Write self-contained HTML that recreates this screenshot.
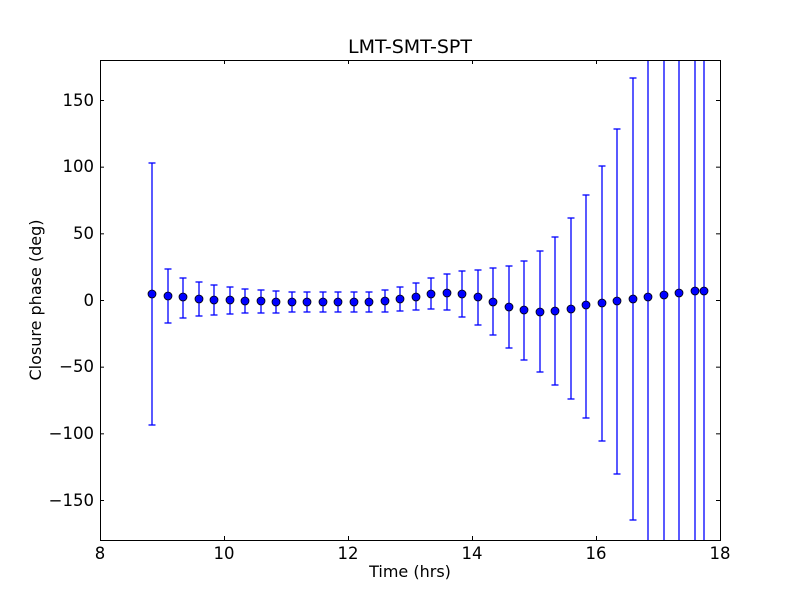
<!DOCTYPE html>
<html><head><style>body{margin:0;background:#fff}svg{display:block}text{font-family:"DejaVu Sans","Liberation Sans",sans-serif;fill:#000}</style></head><body>
<svg width="800" height="600" xmlns="http://www.w3.org/2000/svg">
<rect width="800" height="600" fill="#fff"/>
<g id="eb" stroke="#0000ff" stroke-width="1.3" fill="none"></g>
<g id="pts"></g>
<rect x="100.5" y="60.5" width="620" height="480" fill="none" stroke="#000" stroke-width="1"/>
<g id="ticks" stroke="#000" stroke-width="1"></g>
<g font-size="16.5" text-anchor="middle">
<text x="100" y="559">8</text><text x="224" y="559">10</text><text x="348" y="559">12</text><text x="472" y="559">14</text><text x="596" y="559">16</text><text x="720" y="559">18</text>
</g>
<g font-size="16.5" text-anchor="end">
<text x="94" y="106">150</text><text x="94" y="172">100</text><text x="94" y="239">50</text><text x="94" y="306">0</text><text x="94" y="372">−50</text><text x="94" y="439">−100</text><text x="94" y="506">−150</text>
</g>
<text x="410" y="577" font-size="16" text-anchor="middle">Time (hrs)</text>
<text x="41" y="300" font-size="16" text-anchor="middle" transform="rotate(-90 41 300)">Closure phase (deg)</text>
<text x="410" y="53" font-size="19" text-anchor="middle">LMT-SMT-SPT</text>
<script>
var d=[[152,294,163,425],[168,296,269,323],[183,297,278,318],[199,299,282,316],[214,300,285,315],[230,300,287,314],[245,301,289,313],[261,301,290,313],[276,302,291,313],[292,302,292,312],[307,302,292,312],[323,302,292,312],[338,302,292,312],[354,302,292,312],[369,302,292,312],[385,301,290,312],[400,299,287,311],[416,297,283,310],[431,294,278,309],[447,293,274,310],[462,294,271,317],[478,297,270,325],[493,302,268,335],[509,307,266,348],[524,310,261,360],[540,312,251,372],[555,311,237,385],[571,309,218,399],[586,305,195,418],[602,303,166,441],[617,301,129,474],[633,299,78,520],[648,297,60,540],[664,295,60,540],[679,293,60,540],[695,291,60,540],[704,291,60,540]];
var ns="http://www.w3.org/2000/svg",eb=document.getElementById("eb"),pts=document.getElementById("pts");
function el(t,a,p){var e=document.createElementNS(ns,t);for(var k in a)e.setAttribute(k,a[k]);p.appendChild(e);}
d.forEach(function(r){var x=r[0];el("line",{x1:x,x2:x,y1:r[2],y2:r[3]},eb);
if(r[2]>60)el("line",{x1:x-3.5,x2:x+3.5,y1:r[2],y2:r[2]},eb);
if(r[3]<540)el("line",{x1:x-3.5,x2:x+3.5,y1:r[3],y2:r[3]},eb);
el("circle",{cx:x,cy:r[1],r:4,fill:"#0000ff",stroke:"#000","stroke-width":0.8},pts);});
var tk=document.getElementById("ticks");
for(var i=0;i<6;i++){var x=100.5+124*i;el("line",{x1:x,x2:x,y1:540,y2:536},tk);el("line",{x1:x,x2:x,y1:60,y2:64},tk);}
for(var j=-150;j<=150;j+=50){var y=300.5-j*480/360;el("line",{x1:100,x2:104,y1:y,y2:y},tk);el("line",{x1:720,x2:716,y1:y,y2:y},tk);}
</script>
</svg></body></html>
